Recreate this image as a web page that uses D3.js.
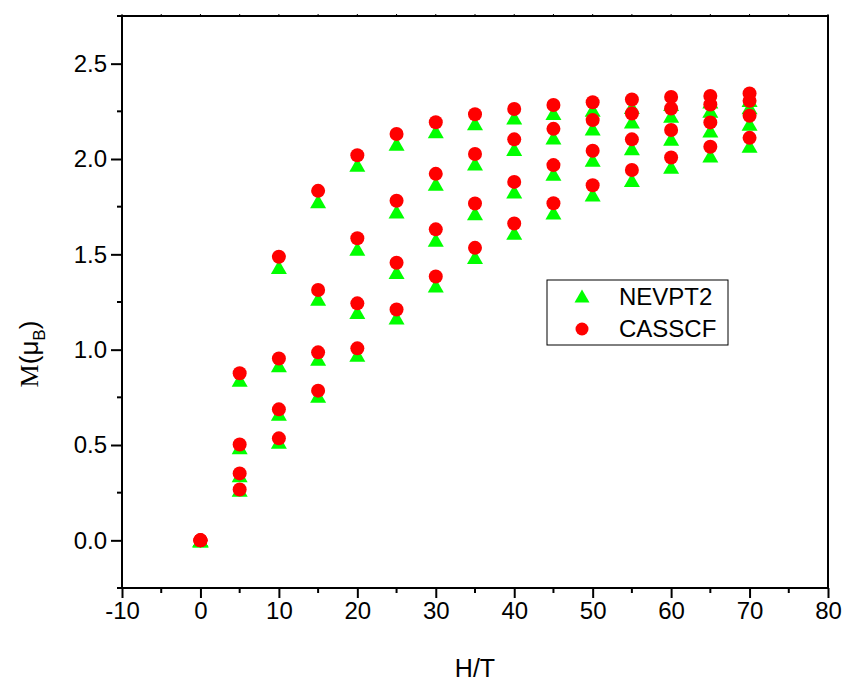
<!DOCTYPE html>
<html>
<head>
<meta charset="utf-8">
<script src="https://cdn.jsdelivr.net/npm/d3@7"></script>
<style>
	body { margin: 0; background: #fff; }
	svg { display: block; }
	text { font-family: "Liberation Sans", Arial, sans-serif; fill: #000; }
</style>
</head>
<body>
<svg id="chart" width="849" height="686"></svg>
<script>
// field values (T) shared by every curve
const fields = [0, 5, 10, 15, 20, 25, 30, 35, 40, 45, 50, 55, 60, 65, 70];

// NEVPT2 magnetisation curves (muB), highest to lowest
const nevA = [0, 0.842, 1.433, 1.778, 1.970, 2.080, 2.145, 2.188, 2.218, 2.241, 2.258, 2.273, 2.288, 2.302, 2.310];
const nevB = [0, 0.488, 0.918, 1.267, 1.529, 1.725, 1.870, 1.977, 2.053, 2.113, 2.160, 2.197, 2.227, 2.253, 2.271];
const nevC = [0, 0.342, 0.664, 0.952, 1.197, 1.407, 1.576, 1.716, 1.830, 1.922, 1.996, 2.057, 2.106, 2.150, 2.185];
const nevD = [0, 0.265, 0.517, 0.758, 0.973, 1.169, 1.337, 1.486, 1.613, 1.720, 1.814, 1.890, 1.959, 2.019, 2.069];

// CASSCF magnetisation curves (muB), highest to lowest
const casA = [0, 0.876, 1.487, 1.833, 2.020, 2.131, 2.193, 2.235, 2.262, 2.283, 2.298, 2.312, 2.325, 2.331, 2.344];
const casB = [0, 0.503, 0.954, 1.313, 1.584, 1.781, 1.922, 2.026, 2.103, 2.158, 2.204, 2.239, 2.265, 2.286, 2.305];
const casC = [0, 0.351, 0.687, 0.986, 1.243, 1.456, 1.631, 1.767, 1.880, 1.968, 2.043, 2.103, 2.152, 2.192, 2.227];
const casD = [0, 0.267, 0.535, 0.785, 1.007, 1.211, 1.384, 1.534, 1.662, 1.768, 1.862, 1.942, 2.008, 2.064, 2.111];

const xTicks = [-10, 0, 10, 20, 30, 40, 50, 60, 70, 80];
const xMinor = [-5, 5, 15, 25, 35, 45, 55, 65, 75];
const yTicks = [0, 0.5, 1.0, 1.5, 2.0, 2.5];
const yMinor = [-0.25, 0.25, 0.75, 1.25, 1.75, 2.25, 2.75];

const legendNames = ["NEVPT2", "CASSCF"];

const svg = d3.select("svg#chart");
const margin = { top: 16, right: 21, bottom: 98, left: 122 };
const width = +svg.attr("width");
const height = +svg.attr("height");

const x = d3.scaleLinear().domain([-10, 80]).range([margin.left, width - margin.right]);
const y = d3.scaleLinear().domain([-0.25, 2.75]).range([height - margin.bottom, margin.top]);

const green = "#00ff00";
const red = "#ff0000";
const triPath = "M0,-7L8,7L-8,7Z";

// ---------- markers: triangles first, circles on top ----------
const pts = (vals) => fields.map((h, i) => ({ h: h, v: vals[i] }));

[nevA, nevB, nevC, nevD].forEach((s) => {
	svg.append("g")
		.selectAll("path")
		.data(pts(s))
		.join("path")
		.attr("d", triPath)
		.attr("transform", (d) => `translate(${x(d.h)},${y(d.v)})`)
		.attr("fill", green);
});

[casA, casB, casC, casD].forEach((s) => {
	svg.append("g")
		.selectAll("circle")
		.data(pts(s))
		.join("circle")
		.attr("cx", (d) => x(d.h))
		.attr("cy", (d) => y(d.v))
		.attr("r", 7)
		.attr("fill", red);
});

// ---------- axes ----------
const x0 = margin.left, x1 = width - margin.right;
const y0 = height - margin.bottom, y1 = margin.top;

// frame
svg.append("rect")
	.attr("x", x0).attr("y", y1)
	.attr("width", x1 - x0).attr("height", y0 - y1)
	.attr("fill", "none").attr("stroke", "#000").attr("stroke-width", 2);

const bottomAxis = svg.append("g")
	.attr("transform", `translate(0,${y0})`)
	.call(d3.axisBottom(x).tickValues(xTicks).tickFormat((d) => String(d)).tickSize(10).tickPadding(4).tickSizeOuter(0));
bottomAxis.select(".domain").remove();
bottomAxis.selectAll("line").attr("stroke-width", 2);
bottomAxis.selectAll("text").style("font-size", "24px").attr("font-family", "Liberation Sans, Arial, sans-serif");

svg.append("g")
	.selectAll("line")
	.data(xMinor)
	.join("line")
	.attr("x1", (d) => x(d)).attr("x2", (d) => x(d))
	.attr("y1", y0).attr("y2", y0 + 5)
	.attr("stroke", "#000").attr("stroke-width", 2);

// tiny marks on the top edge
svg.append("g")
	.selectAll("line")
	.data(xTicks.concat(xMinor))
	.join("line")
	.attr("x1", (d) => x(d)).attr("x2", (d) => x(d))
	.attr("y1", y1).attr("y2", y1 - 2)
	.attr("stroke", "#000").attr("stroke-width", 1);

const leftAxis = svg.append("g")
	.attr("transform", `translate(${x0},0)`)
	.call(d3.axisLeft(y).tickValues(yTicks).tickFormat(d3.format(".1f")).tickSize(11).tickPadding(4).tickSizeOuter(0));
leftAxis.select(".domain").remove();
leftAxis.selectAll("line").attr("stroke-width", 2);
leftAxis.selectAll("text").style("font-size", "24px").attr("font-family", "Liberation Sans, Arial, sans-serif");

svg.append("g")
	.selectAll("line")
	.data(yMinor)
	.join("line")
	.attr("x1", x0 - 5).attr("x2", x0)
	.attr("y1", (d) => y(d)).attr("y2", (d) => y(d))
	.attr("stroke", "#000").attr("stroke-width", 2);

// axis titles
svg.append("text")
	.attr("x", (x0 + x1) / 2)
	.attr("y", 677)
	.attr("text-anchor", "middle")
	.style("font-size", "25px")
	.text("H/T");

const yTitle = svg.append("text")
	.attr("transform", `translate(38,354) rotate(-90)`)
	.attr("text-anchor", "middle")
	.style("font-size", "26px");
yTitle.append("tspan").attr("font-family", "Liberation Serif, Times New Roman, serif").text("M");
yTitle.append("tspan").text("(μ");
yTitle.append("tspan").attr("dy", 7).style("font-size", "17px").text("B");
yTitle.append("tspan").attr("dy", -7).text(")");

// ---------- legend ----------
const legend = svg.append("g").attr("transform", "translate(547,280)");
legend.append("rect")
	.attr("width", 181).attr("height", 65)
	.attr("fill", "#fff").attr("stroke", "#000").attr("stroke-width", 1);

legend.append("path")
	.attr("d", "M0,-6.5L7.5,6.5L-7.5,6.5Z")
	.attr("transform", "translate(35,16)")
	.attr("fill", green);
legend.append("circle")
	.attr("cx", 35).attr("cy", 49).attr("r", 6.5)
	.attr("fill", red);

legend.selectAll("text")
	.data(legendNames)
	.join("text")
	.attr("x", 72)
	.attr("y", (d, i) => 25 + i * 32)
	.style("font-size", "24px")
	.text((d) => d);
</script>
</body>
</html>
